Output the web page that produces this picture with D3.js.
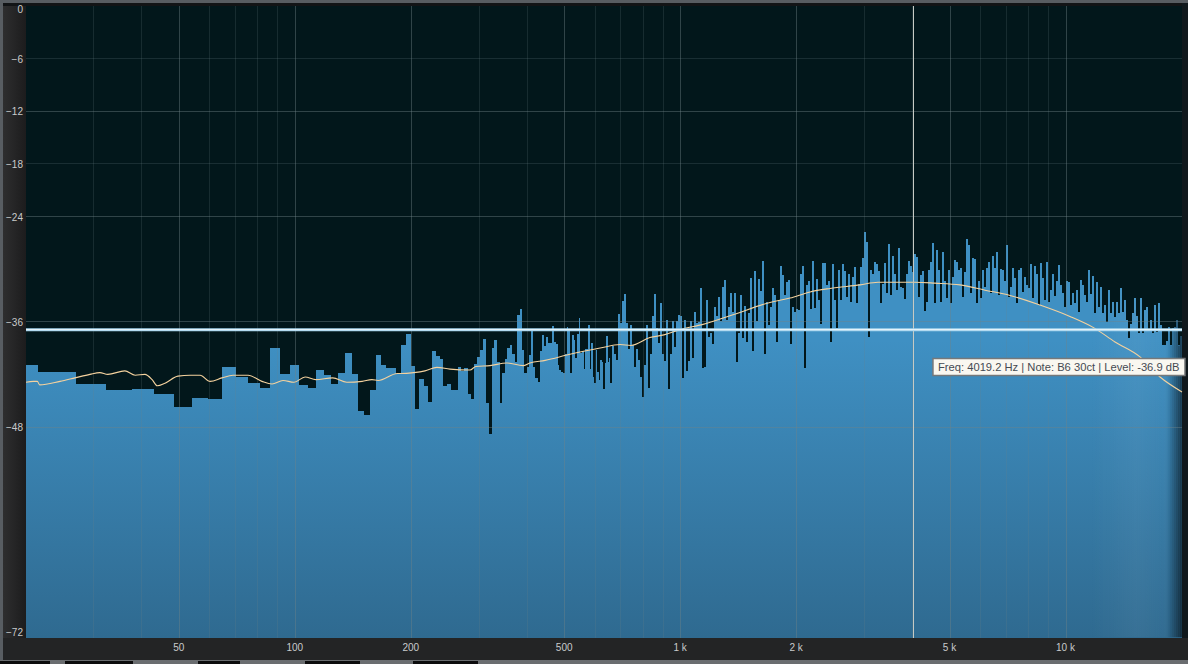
<!DOCTYPE html>
<html>
<head>
<meta charset="utf-8">
<script src="https://cdn.jsdelivr.net/npm/d3@7"></script>
<style>
  html, body { margin: 0; padding: 0; background: #232425; overflow: hidden; }
  svg { display: block; }
  text { font-family: "Liberation Sans", Arial, sans-serif; }
</style>
</head>
<body>
<div id="chart"></div>
<script>
const width = 1188;
const height = 664;

// FFT bin size of the analyser (44.1 kHz / 8192)
const binHz = 5.383;
const firstBin = 3;

// level of each FFT bin from bin 3 up to about 650 Hz, dB
const binLevels = [
  -40.9, -41.7, -43.1, -43.8, -43.7, -44.2, -45.7, -44.7, -44.8, -41.2,
  -42.3, -43.0, -43.6, -39.0, -42.0, -40.9, -43.2, -43.6, -41.5, -42.1,
  -43.1, -41.8, -39.6, -42.0, -46.2, -46.6, -43.8, -39.8, -40.9, -41.3,
  -41.3, -42.0, -38.7, -37.4, -41.0, -46.0, -42.5, -43.3, -45.1, -39.3,
  -39.9, -40.2, -43.3, -43.1, -43.8, -43.8, -41.2, -41.6, -41.3, -44.2,
  -44.8, -40.8, -40.0, -39.2, -38.0, -45.3, -48.8, -39.0, -38.1, -40.6,
  -45.3, -41.8, -40.2, -39.0, -38.7, -39.7, -40.6, -35.2, -34.5, -39.2,
  -41.8, -41.2, -39.8, -36.8, -41.2, -42.4, -42.9, -39.3, -37.5, -38.8,
  -37.7, -38.4, -38.4, -36.5, -38.3, -38.5, -40.9, -41.5, -41.7, -41.8,
  -39.7, -36.6, -37.0, -41.8, -37.5, -38.1, -40.1, -37.4, -35.6, -39.6,
  -39.3, -41.4, -39.1, -39.1, -36.4, -41.4, -38.4, -42.3, -43.0, -39.2,
  -41.7, -42.6, -40.4, -40.6, -43.7, -40.7, -37.6, -40.6, -40.1
];

// above 655 Hz the bins are thinner than a pixel: peak level per display column, dB
const columnStartHz = 655;
const columnsPerDecade = 192.665;
const columnLevels = [
  -43.0, -38.8, -39.7, -40.4, -35.1, -36.1, -33.6, -32.8, -36.1, -39.1,
  -36.4, -38.7, -41.2, -39.1, -40.4, -42.3, -44.6, -40.9, -36.4, -43.5,
  -39.7, -35.3, -32.8, -36.7, -38.4, -33.9, -39.7, -40.5, -35.8, -43.7,
  -39.7, -35.9, -38.9, -35.9, -35.2, -35.3, -42.4, -35.8, -41.6, -40.5,
  -35.9, -40.1, -34.9, -36.1, -36.0, -32.1, -41.3, -41.2, -33.5, -37.7,
  -37.3, -38.5, -34.3, -35.3, -33.2, -35.9, -32.0, -31.2, -35.8, -34.3,
  -32.7, -34.9, -32.7, -40.6, -37.3, -32.9, -37.9, -34.2, -38.3, -35.0,
  -31.0, -39.3, -30.2, -35.9, -31.1, -32.5, -29.1, -39.7, -33.8, -36.4,
  -34.3, -32.1, -32.9, -38.3, -33.5, -29.6, -30.7, -32.9, -31.5, -31.2,
  -38.5, -34.3, -34.9, -34.6, -34.7, -30.5, -29.6, -41.3, -31.8, -31.4,
  -34.5, -29.1, -34.4, -31.1, -33.5, -36.2, -29.3, -29.3, -31.8, -31.3,
  -38.3, -29.4, -33.5, -36.7, -30.1, -33.5, -29.4, -30.2, -33.2, -30.6,
  -33.8, -30.9, -29.8, -33.9, -31.7, -29.8, -28.7, -25.8, -26.9, -37.7,
  -30.1, -30.6, -29.2, -29.4, -30.2, -33.9, -31.7, -29.3, -32.7, -27.1,
  -33.0, -28.5, -30.6, -32.4, -27.6, -32.0, -32.2, -33.4, -30.6, -29.1,
  -29.6, -30.3, -28.3, -28.6, -33.2, -30.7, -30.2, -34.8, -33.8, -30.1,
  -29.2, -27.0, -33.9, -27.8, -30.1, -33.8, -28.0, -31.3, -33.3, -30.1,
  -33.9, -30.9, -29.0, -29.2, -30.1, -29.9, -33.2, -30.3, -26.6, -27.3,
  -32.7, -28.7, -28.9, -33.9, -31.4, -33.3, -30.1, -32.0, -29.9, -29.2,
  -32.7, -28.5, -29.9, -28.0, -33.0, -30.0, -30.1, -31.3, -27.3, -33.2,
  -32.0, -29.9, -31.0, -33.9, -30.1, -29.9, -32.6, -30.9, -31.8, -32.2,
  -29.4, -33.3, -29.7, -30.6, -34.1, -29.3, -31.0, -33.5, -29.2, -33.7,
  -32.4, -30.6, -33.1, -31.4, -29.5, -31.8, -32.7, -34.3, -31.3, -31.5,
  -34.1, -32.7, -33.9, -32.4, -34.9, -31.2, -31.8, -33.0, -33.7, -30.1,
  -32.8, -30.8, -35.0, -31.5, -34.3, -32.0, -35.0, -34.1, -36.0, -32.4,
  -35.0, -33.7, -35.5, -33.7, -35.0, -32.2, -34.9, -33.5, -35.8, -37.8,
  -36.2, -35.0, -33.3, -35.3, -37.3, -33.3, -37.3, -34.7, -34.3, -37.1,
  -35.8, -37.3, -34.1, -37.2, -33.9, -36.4, -38.6, -38.7, -38.2, -36.6,
  -38.7, -36.7, -36.6, -35.8, -38.7, -37.6
];

// smoothed average curve
const avgHz = [
  20, 20.9, 21.4, 21.7, 24.5, 26.8, 29.3, 31.1, 32.6, 36.1,
  38.4, 40.7, 42.5, 43.8, 45.9, 49.6, 53.3, 56.6, 60.1, 64.5,
  68.9, 75.4, 81.9, 87, 92.9, 99.2, 106, 113, 125, 136,
  149, 158, 164, 184, 187, 203, 217, 233, 252, 284,
  294, 320, 354, 390, 406, 445, 516, 618, 696, 743,
  832, 905, 996, 1143, 1367, 1705, 1922, 2166, 2440, 2920,
  3252, 4056, 4571, 5307, 6164, 7156, 8560, 10240, 11820, 13400,
  15560, 17540, 20000
];
const avgDb = [
  -42.9, -42.8, -42.8, -43.2, -42.8, -42.4, -42.0, -41.8, -42.0, -41.6,
  -42.1, -42.0, -42.6, -43.3, -43.0, -42.2, -42.1, -42.1, -42.8, -42.4,
  -42.1, -42.1, -42.8, -43.1, -42.7, -42.9, -42.3, -42.6, -42.4, -42.9,
  -42.8, -42.6, -42.7, -41.9, -41.9, -41.8, -41.6, -41.2, -41.4, -41.5,
  -41.1, -41.0, -40.7, -41.0, -40.7, -40.4, -39.7, -39.0, -38.6, -38.7,
  -37.8, -37.5, -36.9, -36.3, -35.2, -33.8, -33.3, -32.6, -32.2, -31.8,
  -31.5, -31.5, -31.6, -31.8, -32.4, -33.0, -34.1, -35.4, -36.7, -38.3,
  -40.0, -42.3, -44.0
];

const dbTicks = [0, -6, -12, -18, -24, -36, -48, -72];
const dbMajor = [-12, -24, -36, -48];
const freqTicks = [50, 100, 200, 500, 1000, 2000, 5000, 10000];
const freqLabels = ["50", "100", "200", "500", "1 k", "2 k", "5 k", "10 k"];
const freqMinor = [30, 40, 60, 70, 80, 90, 300, 400, 600, 700, 800, 900, 3000, 4000, 6000, 7000, 8000, 9000];

const cursorHz = 4019.2;
const cursorDb = -36.9;
const cursorText = "Freq: 4019.2 Hz | Note: B6 30ct | Level: -36.9 dB";

const plot = { left: 26, right: 1182, top: 6, bottom: 637.5 };

const x = d3.scaleLog().domain([20, 20000]).range([plot.left, plot.right]).clamp(true);
const y = d3.scaleLinear().domain([0, -72]).range([plot.top, plot.bottom]);

const bars = binLevels.map((db, i) => ({
  lo: (firstBin + i) * binHz,
  hi: (firstBin + i + 1) * binHz,
  db
})).concat(columnLevels.map((db, i) => ({
  lo: columnStartHz * Math.pow(10, i / columnsPerDecade),
  hi: columnStartHz * Math.pow(10, (i + 1) / columnsPerDecade),
  db
})));

const svg = d3.select("#chart").append("svg")
  .attr("width", width)
  .attr("height", height)
  .attr("viewBox", [0, 0, width, height]);

const defs = svg.append("defs");

const blue = defs.append("linearGradient").attr("id", "blue")
  .attr("gradientUnits", "userSpaceOnUse")
  .attr("x1", 0).attr("x2", 0).attr("y1", 340).attr("y2", plot.bottom);
blue.append("stop").attr("offset", 0).attr("stop-color", "#3f90c3");
blue.append("stop").attr("offset", 1).attr("stop-color", "#2f6a90");

const edge = defs.append("linearGradient").attr("id", "edge")
  .attr("gradientUnits", "userSpaceOnUse")
  .attr("x1", 1090).attr("x2", plot.right).attr("y1", 0).attr("y2", 0);
[[0, "#fff", 0], [0.5, "#fff", 0.05], [0.8, "#fff", 0.02], [0.86, "#000", 0.08], [1, "#000", 0.6]]
  .forEach(s => edge.append("stop").attr("offset", s[0]).attr("stop-color", s[1]).attr("stop-opacity", s[2]));

const side = defs.append("linearGradient").attr("id", "side")
  .attr("x1", 0).attr("x2", 1).attr("y1", 0).attr("y2", 0);
side.append("stop").attr("offset", 0).attr("stop-color", "#2e2e2f");
side.append("stop").attr("offset", 1).attr("stop-color", "#1c1c1d");

function barAttrs(sel) {
  sel.attr("x", d => x(d.lo))
    .attr("y", d => y(d.db))
    .attr("width", d => x(d.hi) - x(d.lo))
    .attr("height", d => plot.bottom - y(d.db));
}

defs.append("clipPath").attr("id", "spectrum")
  .selectAll("rect")
  .data(bars)
  .join("rect")
  .call(barAttrs);

// window chrome
svg.append("rect").attr("width", width).attr("height", height).attr("fill", "#232425");
svg.append("rect").attr("width", width).attr("height", 3).attr("fill", "#585d62");
svg.append("rect").attr("y", 3).attr("width", width).attr("height", 3).attr("fill", "#121416");
svg.append("rect").attr("width", 3).attr("height", height).attr("fill", "#585d62");
svg.append("rect").attr("x", 3).attr("y", 6).attr("width", plot.left - 3).attr("height", 632).attr("fill", "url(#side)");
svg.append("rect").attr("x", plot.right).attr("y", 3).attr("width", width - plot.right).attr("height", 635).attr("fill", "#10181c");
svg.append("rect").attr("y", 660).attr("width", width).attr("height", 4).attr("fill", "#6a6d70");
svg.selectAll("rect.strip")
  .data([[0, 50], [65, 133], [198, 240], [305, 360], [413, 478]])
  .join("rect")
  .attr("class", "strip")
  .attr("x", d => d[0]).attr("y", 661)
  .attr("width", d => d[1] - d[0]).attr("height", 3)
  .attr("fill", "#0c0c0d");

// plot background
svg.append("rect")
  .attr("x", plot.left).attr("y", plot.top)
  .attr("width", plot.right - plot.left).attr("height", plot.bottom - plot.top)
  .attr("fill", "#02171b");

// spectrum
svg.append("g")
  .attr("shape-rendering", "crispEdges")
  .selectAll("rect")
  .data(bars)
  .join("rect")
  .call(barAttrs)
  .attr("fill", "url(#blue)");

svg.append("rect")
  .attr("x", 1090).attr("y", plot.top)
  .attr("width", plot.right - 1090).attr("height", plot.bottom - plot.top)
  .attr("fill", "url(#edge)")
  .attr("clip-path", "url(#spectrum)");

// grid
const grid = svg.append("g").attr("shape-rendering", "crispEdges");
grid.selectAll("line.vminor")
  .data(freqMinor)
  .join("line")
  .attr("class", "vminor")
  .attr("x1", d => x(d)).attr("x2", d => x(d))
  .attr("y1", plot.top).attr("y2", plot.bottom)
  .attr("stroke", "#6f8488").attr("stroke-opacity", 0.2);
grid.selectAll("line.vmajor")
  .data(freqTicks)
  .join("line")
  .attr("class", "vmajor")
  .attr("x1", d => x(d)).attr("x2", d => x(d))
  .attr("y1", plot.top).attr("y2", plot.bottom)
  .attr("stroke", "#6f8488").attr("stroke-opacity", 0.42);
grid.selectAll("line.h")
  .data(dbTicks.filter(d => d !== 0 && d !== -72))
  .join("line")
  .attr("class", "h")
  .attr("x1", plot.left).attr("x2", plot.right)
  .attr("y1", d => y(d)).attr("y2", d => y(d))
  .attr("stroke", "#6f8488")
  .attr("stroke-opacity", d => dbMajor.includes(d) ? 0.42 : 0.22);

// average curve
const line = d3.line().x(d => x(d[0])).y(d => y(d[1])).curve(d3.curveMonotoneX);
svg.append("path")
  .datum(d3.zip(avgHz, avgDb))
  .attr("d", line)
  .attr("fill", "none")
  .attr("stroke", "#f5d29e")
  .attr("stroke-width", 1.1);

// cursor
svg.append("line")
  .attr("x1", Math.round(x(cursorHz)) + 0.5).attr("x2", Math.round(x(cursorHz)) + 0.5)
  .attr("y1", plot.top).attr("y2", plot.bottom)
  .attr("stroke", "#c6cac4").attr("stroke-width", 1)
  .attr("shape-rendering", "crispEdges");
svg.append("line")
  .attr("x1", plot.left).attr("x2", plot.right)
  .attr("y1", y(cursorDb)).attr("y2", y(cursorDb))
  .attr("stroke", "#a9d6ee").attr("stroke-width", 3);
svg.append("line")
  .attr("x1", plot.left).attr("x2", plot.right)
  .attr("y1", y(cursorDb)).attr("y2", y(cursorDb))
  .attr("stroke", "#eef8fc").attr("stroke-width", 1);

// axis labels
const yLabels = svg.append("g")
  .attr("transform", `translate(${plot.left - 3},1)`)
  .call(d3.axisLeft(y).tickValues(dbTicks).tickSize(0).tickPadding(0));
yLabels.select(".domain").remove();
yLabels.selectAll(".tick")
  .attr("transform", d => `translate(0,${Math.max(9, Math.min(632, y(d)))})`);
yLabels.selectAll("text")
  .attr("fill", "#c9cbcc").attr("font-size", 10)
  .style("font-family", '"Liberation Sans", Arial, sans-serif');

const xLabels = svg.append("g")
  .attr("transform", "translate(-1,638)")
  .call(d3.axisBottom(x).tickValues(freqTicks).tickSize(0).tickPadding(6)
    .tickFormat((d, i) => freqLabels[i]));
xLabels.select(".domain").remove();
xLabels.selectAll("text")
  .attr("fill", "#c9cbcc").attr("font-size", 10)
  .style("font-family", '"Liberation Sans", Arial, sans-serif');

// read-out box
const tip = svg.append("g").attr("transform", `translate(${x(cursorHz) + 19.5},358.5)`);
tip.append("rect")
  .attr("width", 252).attr("height", 17)
  .attr("fill", "#f9f7f0")
  .attr("stroke", "#76787a").attr("stroke-width", 1.5);
tip.append("text")
  .attr("x", 5).attr("y", 12.5)
  .attr("font-size", 11.2)
  .attr("fill", "#454a52")
  .text(cursorText);
</script>
</body>
</html>
